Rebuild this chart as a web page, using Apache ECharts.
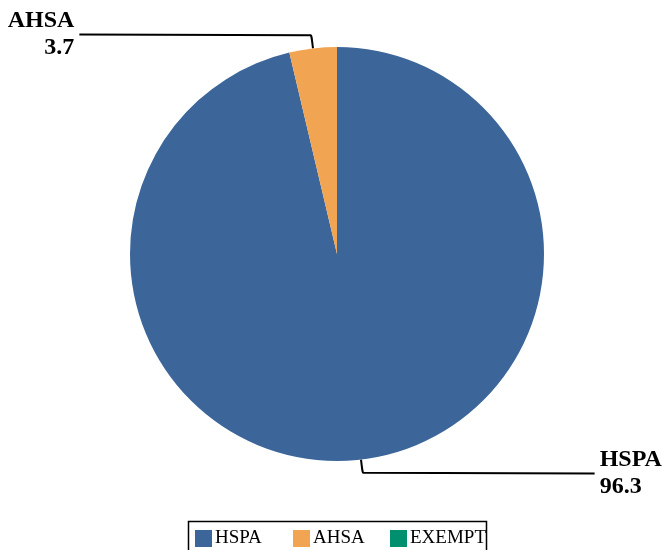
<!DOCTYPE html>
<html>
<head>
<meta charset="utf-8">
<script src="https://cdn.jsdelivr.net/npm/echarts@6/dist/echarts.min.js"></script>
<style>
html,body{margin:0;padding:0;background:#fff;}
#chart{width:665px;height:550px;}
</style>
</head>
<body>
<div id="chart"></div>
<script>
var categories = ['HSPA', 'AHSA', 'EXEMPT'];
var values = [96.3, 3.7, 0];
var colors = ['#3c6699', '#f1a452', '#009070'];

var data = categories.map(function (c, i) {
  var item = { name: c, value: values[i], itemStyle: { color: colors[i] } };
  if (values[i] === 0) {
    item.label = { show: false };
    item.labelLine = { show: false };
  }
  return item;
});

var legendLefts = [195, 293, 390];
var legends = categories.map(function (c, i) {
  return {
    left: legendLefts[i],
    top: 529,
    padding: 0,
    itemWidth: 17,
    itemHeight: 17,
    icon: 'rect',
    textStyle: { fontFamily: 'Liberation Serif', fontSize: 19, color: '#000', padding: [0, 0, 0, -2] },
    data: [c]
  };
});

var chart = echarts.init(document.getElementById('chart'));
chart.setOption({
  animation: false,
  backgroundColor: '#ffffff',
  legend: legends,
  graphic: [{
    type: 'rect',
    shape: { x: 188.5, y: 521.5, width: 298, height: 40 },
    style: { fill: 'none', stroke: '#000', lineWidth: 1.5 },
    silent: true
  }],
  series: [{
    type: 'pie',
    center: [337, 254],
    radius: 207,
    startAngle: 90,
    clockwise: true,
    data: data,
    itemStyle: { borderWidth: 0 },
    label: {
      show: true,
      position: 'outside',
      formatter: '{b}\n{c}',
      fontFamily: 'Liberation Serif',
      fontWeight: 'bold',
      fontSize: 24,
      lineHeight: 27,
      color: '#000',
      overflow: 'none',
      bleedMargin: 0
    },
    labelLine: {
      show: true,
      length: 14,
      length2: 232,
      smooth: 0.1,
      lineStyle: { color: '#000', width: 2 }
    },
    emphasis: { disabled: true }
  }]
});
</script>
</body>
</html>
